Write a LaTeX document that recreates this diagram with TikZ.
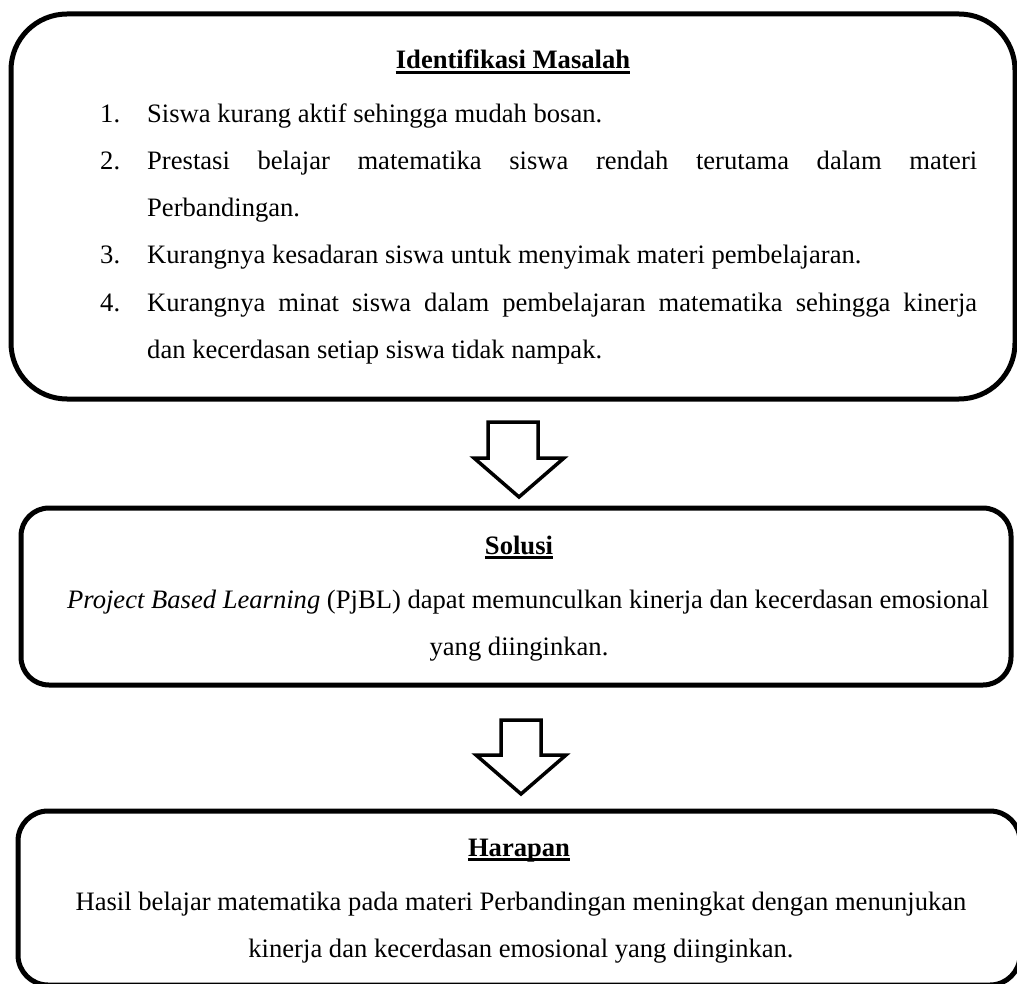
\documentclass[tikz,border=0pt]{standalone}
\usepackage{fontspec}
\setmainfont{Liberation Serif}
\usetikzlibrary{positioning}

\tikzset{
	panel/.style={draw, line width=5pt, rectangle, inner sep=0pt},
	blockarrow/.style={draw, line width=3.5pt, line join=miter, fill=white},
	txt/.style={inner sep=0pt, font=\fontsize{26.6}{47}\selectfont},
	ttl/.style={inner sep=0pt, font=\fontsize{26.6}{47}\selectfont\bfseries},
	garis/.style={line width=2.5pt}
}

\begin{document}
\begin{tikzpicture}[x=1pt, y=-1pt]
			\useasboundingbox (0,0) rectangle (1017,984);
			
			% kotak-kotak
			\node[panel, rounded corners=56pt, minimum width=1004pt, minimum height=385pt] (masalah) at (513,206.5) {};
			\node[panel, rounded corners=28pt, minimum width=990pt, minimum height=177pt] (solusi) at (516,596.5) {};
			\node[panel, rounded corners=30pt, minimum width=1002pt, minimum height=174pt] (harapan) at (519,898) {};
			
			% Identifikasi Masalah
			\node[ttl, anchor=base] (jdl1) at (513,69) {Identifikasi Masalah};
			\draw[garis] ([yshift=-3.5pt]jdl1.base west) -- ([yshift=-3.5pt]jdl1.base east);
			
			\node[txt, anchor=base west] (no1) at (100,123) {1.};
			\node[txt, anchor=base west] (no2) at (100,170) {2.};
			\node[txt, anchor=base west] (no3) at (100,264) {3.};
			\node[txt, anchor=base west] (no4) at (100,311) {4.};
			
			\node[txt, anchor=base west] (b1) at (147,123) {Siswa kurang aktif sehingga mudah bosan.};
			\node[txt, anchor=base west] (b2) at (147,170) {\makebox[830pt][s]{Prestasi belajar matematika siswa rendah terutama dalam materi}};
			\node[txt, anchor=base west] (b2b) at (147,217) {Perbandingan.};
			\node[txt, anchor=base west] (b3) at (147,264) {Kurangnya kesadaran siswa untuk menyimak materi pembelajaran.};
			\node[txt, anchor=base west] (b4) at (147,311) {\makebox[830pt][s]{Kurangnya minat siswa dalam pembelajaran matematika sehingga kinerja}};
			\node[txt, anchor=base west] (b4b) at (147,358) {dan kecerdasan setiap siswa tidak nampak.};
			
			% Solusi
			\node[ttl, anchor=base] (jdl2) at (519,554) {Solusi};
			\draw[garis] ([yshift=-3.5pt]jdl2.base west) -- ([yshift=-3.5pt]jdl2.base east);
			\node[txt, anchor=base] (s1) at (528,608) {\textit{Project Based Learning} (PjBL) dapat memunculkan kinerja dan kecerdasan emosional};
			\node[txt, anchor=base] (s2) at (519,655) {yang diinginkan.};
			
			% Harapan
			\node[ttl, anchor=base] (jdl3) at (519,856) {Harapan};
			\draw[garis] ([yshift=-3.5pt]jdl3.base west) -- ([yshift=-3.5pt]jdl3.base east);
			\node[txt, anchor=base] (h1) at (521,910) {Hasil belajar matematika pada materi Perbandingan meningkat dengan menunjukan};
			\node[txt, anchor=base] (h2) at (521,957) {kinerja dan kecerdasan emosional yang diinginkan.};
			
			% panah blok
			\coordinate (pa1) at (519,422);
			\coordinate (pa2) at (521,720);
			\draw[blockarrow, shift={(pa1)}] (-31,0) -- (19,0) -- (19,36) -- (45,36) -- (0,75) -- (-45,36) -- (-31,36) -- cycle;
			\draw[blockarrow, shift={(pa2)}] (-20,0) -- (20,0) -- (20,35) -- (45,35) -- (0,74) -- (-45,35) -- (-20,35) -- cycle;
		\end{tikzpicture}
\end{document}
